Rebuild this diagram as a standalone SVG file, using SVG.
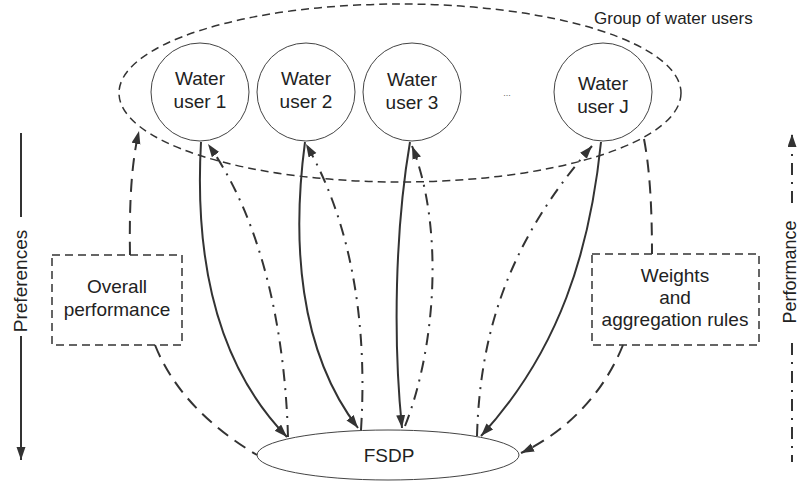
<svg xmlns="http://www.w3.org/2000/svg" width="800" height="481" viewBox="0 0 800 481">
<style>
  text { font-family: "Liberation Sans", Arial, sans-serif; fill: #222; }
  .lbl { font-size: 19px; text-anchor: middle; }
  .node { fill: #fff; stroke: #444; stroke-width: 1; }
  .group { fill: none; stroke: #333; stroke-width: 1.5; stroke-dasharray: 8 5; }
  .box { fill: #fff; stroke: #333; stroke-width: 1.5; stroke-dasharray: 8 5; }
  .solid { fill: none; stroke: #333; stroke-width: 2; }
  .dashdot { fill: none; stroke: #333; stroke-width: 2; stroke-dasharray: 12 7 2 7; }
  .dashed { fill: none; stroke: #333; stroke-width: 2; stroke-dasharray: 13 8; }
</style>
<defs>
  <marker id="ah" markerUnits="userSpaceOnUse" markerWidth="14" markerHeight="10" refX="13" refY="4.5" orient="auto">
    <path d="M0,0 L13,4.5 L0,9 z" fill="#333"/>
  </marker>
</defs>
<rect width="800" height="481" fill="#fff"/>

<g id="group-of-water-users">
  <ellipse class="group" cx="400" cy="93" rx="281" ry="89"/>
  <text x="594" y="24" style="font-size:17px">Group of water users</text>
</g>

<g id="water-user-1">
  <circle class="node" cx="200" cy="92" r="49"/>
  <text class="lbl" x="200" y="85">Water</text>
  <text class="lbl" x="200" y="108">user 1</text>
</g>
<g id="water-user-2">
  <circle class="node" cx="306" cy="92" r="49"/>
  <text class="lbl" x="306" y="85">Water</text>
  <text class="lbl" x="306" y="108">user 2</text>
</g>
<g id="water-user-3">
  <circle class="node" cx="412" cy="92" r="49"/>
  <text class="lbl" x="412" y="86">Water</text>
  <text class="lbl" x="412" y="109">user 3</text>
</g>
<g id="ellipsis">
  <text x="507" y="96" style="font-size:9px;fill:#666" text-anchor="middle">...</text>
</g>
<g id="water-user-j">
  <circle class="node" cx="603" cy="92" r="49"/>
  <text class="lbl" x="603" y="90">Water</text>
  <text class="lbl" x="603" y="113">user J</text>
</g>

<g id="overall-performance">
  <rect class="box" x="52" y="255" width="130" height="90"/>
  <text class="lbl" x="117" y="293">Overall</text>
  <text class="lbl" x="117" y="316">performance</text>
</g>
<g id="weights-aggregation">
  <rect class="box" x="592" y="254" width="167" height="91"/>
  <text class="lbl" x="675" y="282">Weights</text>
  <text class="lbl" x="675" y="304">and</text>
  <text class="lbl" x="675" y="326">aggregation rules</text>
</g>

<g id="fsdp">
  <ellipse class="node" cx="388" cy="455" rx="131" ry="25"/>
  <text class="lbl" x="389" y="462">FSDP</text>
</g>

<g id="preferences-axis">
  <line x1="21" y1="133" x2="21" y2="217" stroke="#333" stroke-width="2"/>
  <line x1="21" y1="336" x2="21" y2="460" stroke="#333" stroke-width="2" marker-end="url(#ah)"/>
  <text class="lbl" transform="translate(27,281) rotate(-90)">Preferences</text>
</g>
<g id="performance-axis">
  <line x1="792" y1="203" x2="792" y2="134" class="dashdot" marker-end="url(#ah)"/>
  <line x1="792" y1="343" x2="792" y2="462" class="dashdot"/>
  <text class="lbl" transform="translate(796,272) rotate(-90)" style="font-size:18px">Performance</text>
</g>

<g id="connectors">
  <!-- users to FSDP (preferences) -->
  <path class="solid" d="M201,142 C195,250 212,360 287,437" marker-end="url(#ah)"/>
  <path class="solid" d="M305,142 C292,240 298,350 358,428" marker-end="url(#ah)"/>
  <path class="solid" d="M410,142 C395,230 393,340 402,428" marker-end="url(#ah)"/>
  <path class="solid" d="M601,142 C590,250 560,350 481,436" marker-end="url(#ah)"/>
  <!-- FSDP to users (performance) -->
  <path class="dashdot" d="M288,437 C285,330 262,220 208,144" marker-end="url(#ah)"/>
  <path class="dashdot" d="M361,430 C368,320 350,220 306,144" marker-end="url(#ah)"/>
  <path class="dashdot" d="M405,426 C435,350 445,230 412,146" marker-end="url(#ah)"/>
  <path class="dashdot" d="M477,436 C480,330 510,240 592,146" marker-end="url(#ah)"/>
  <!-- boxes -->
  <path class="dashed" d="M130,255 C129,200 132,160 139,131" marker-end="url(#ah)"/>
  <path class="dashed" d="M155,345 C175,395 215,430 257,455"/>
  <path class="dashed" d="M644,139 C650,170 652,210 652,254"/>
  <path class="dashed" d="M623,345 C605,390 570,430 521,453" marker-end="url(#ah)"/>
</g>
</svg>
